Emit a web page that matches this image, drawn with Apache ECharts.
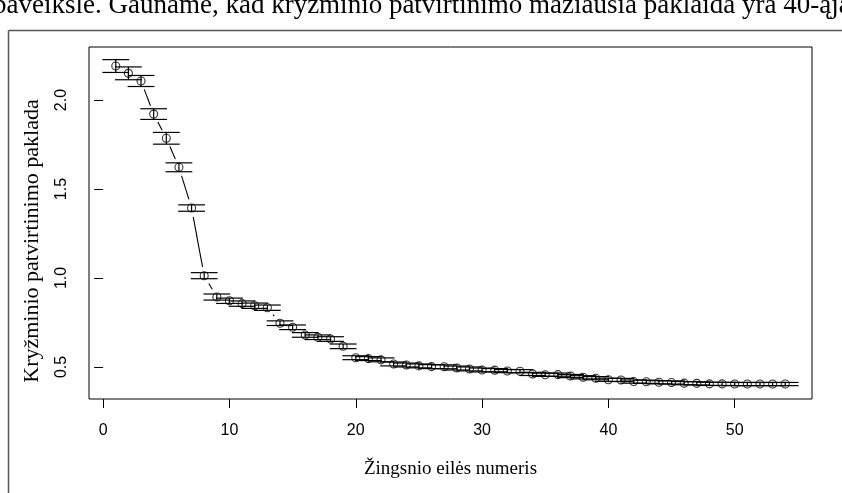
<!DOCTYPE html>
<html>
<head>
<meta charset="utf-8">
<script src="https://cdn.jsdelivr.net/npm/echarts@6/dist/echarts.min.js"></script>
<style>
    html, body {margin: 0; padding: 0; background: #fff;}
    #cvChart {width: 842px; height: 493px;}
</style>
</head>
<body>
<div id="cvChart"></div>
<script>
var steps = [1, 2, 3, 4, 5, 6, 7, 8, 9, 10, 11, 12, 13, 14, 15, 16, 17, 18, 19, 20,
    21, 22, 23, 24, 25, 26, 27, 28, 29, 30, 31, 32, 33, 34, 35, 36, 37, 38, 39, 40,
    41, 42, 43, 44, 45, 46, 47, 48, 49, 50, 51, 52, 53, 54];
var cvError = [2.191, 2.150, 2.107, 1.921, 1.785, 1.622, 1.393, 1.013, 0.893, 0.872,
    0.856, 0.844, 0.833, 0.746, 0.723, 0.680, 0.667, 0.657, 0.616, 0.552,
    0.547, 0.540, 0.517, 0.511, 0.506, 0.502, 0.501, 0.494, 0.489, 0.483,
    0.482, 0.477, 0.476, 0.461, 0.456, 0.457, 0.449, 0.442, 0.437, 0.428,
    0.427, 0.418, 0.417, 0.414, 0.413, 0.409, 0.408, 0.405, 0.405, 0.404,
    0.404, 0.404, 0.404, 0.404];
var cvSE = [0.036, 0.036, 0.031, 0.030, 0.033, 0.025, 0.018, 0.017, 0.017, 0.015,
    0.015, 0.015, 0.015, 0.013, 0.013, 0.013, 0.013, 0.013, 0.013, 0.011,
    0.011, 0.011, 0.011, 0.011, 0.011, 0.011, 0.011, 0.011, 0.011, 0.011,
    0.009, 0.009, 0.009, 0.009, 0.009, 0.009, 0.009, 0.009, 0.009, 0.009,
    0.009, 0.009, 0.009, 0.009, 0.009, 0.009, 0.009, 0.009, 0.009, 0.009,
    0.009, 0.009, 0.009, 0.009];
var xTicks = [0, 10, 20, 30, 40, 50];
var yTicks = [0.5, 1.0, 1.5, 2.0];
var xTitle = 'Žingsnio eilės numeris';
var yTitle = 'Kryžminio patvirtinimo paklada';
var topText = 'paveiksle. Gauname, kad kryžminio patvirtinimo mažiausia paklaida yra 40-ąja';

var capHalf = 1.06;   // half width of error bar caps, in step units
var lineGap = 9;      // px left open around each point (R type "b")

function renderErrorBar(params, api) {
    var x = api.value(0), lo = api.value(1), hi = api.value(2);
    var top = api.coord([x, hi]), bot = api.coord([x, lo]);
    var tl = api.coord([x - capHalf, hi]), tr = api.coord([x + capHalf, hi]);
    var bl = api.coord([x - capHalf, lo]), br = api.coord([x + capHalf, lo]);
    var st = {stroke: '#000', lineWidth: 1.2};
    return {
        type: 'group',
        children: [
            {type: 'line', shape: {x1: top[0], y1: top[1], x2: bot[0], y2: bot[1]}, style: st},
            {type: 'line', shape: {x1: tl[0], y1: tl[1], x2: tr[0], y2: tr[1]}, style: st},
            {type: 'line', shape: {x1: bl[0], y1: bl[1], x2: br[0], y2: br[1]}, style: st}
        ]
    };
}

function renderSegment(params, api) {
    var p1 = api.coord([api.value(0), api.value(1)]);
    var p2 = api.coord([api.value(2), api.value(3)]);
    var dx = p2[0] - p1[0], dy = p2[1] - p1[1];
    var len = Math.sqrt(dx * dx + dy * dy);
    if (len <= 2 * lineGap) {
        return null;
    }
    var ux = dx / len, uy = dy / len;
    return {
        type: 'line',
        shape: {
            x1: p1[0] + ux * lineGap, y1: p1[1] + uy * lineGap,
            x2: p2[0] - ux * lineGap, y2: p2[1] - uy * lineGap
        },
        style: {stroke: '#000', lineWidth: 1.1}
    };
}

var barData = steps.map(function (s, i) {
    return [s, cvError[i] - cvSE[i], cvError[i] + cvSE[i]];
});
var pointData = steps.map(function (s, i) {
    return [s, cvError[i]];
});
var segData = [];
for (var i = 0; i < steps.length - 1; i++) {
    segData.push([steps[i], cvError[i], steps[i + 1], cvError[i + 1]]);
}

var chart = echarts.init(document.getElementById('cvChart'), null, {renderer: 'canvas'});
var option = {
    animation: false,
    backgroundColor: '#fff',
    grid: {left: 89, top: 47, right: 30, bottom: 94, show: true, borderColor: '#000', borderWidth: 1},
    xAxis: {
        type: 'value',
        min: -1.12,
        max: 56.12,
        splitLine: {show: false},
        axisLine: {show: false},
        axisTick: {show: true, customValues: xTicks, length: 9, inside: false, lineStyle: {color: '#000'}},
        axisLabel: {
            customValues: xTicks, margin: 24, color: '#000',
            fontFamily: 'Liberation Sans', fontSize: 16
        },
        name: xTitle,
        nameLocation: 'middle',
        nameGap: 61,
        nameTextStyle: {fontFamily: 'Liberation Serif', fontSize: 19, color: '#000'}
    },
    yAxis: {
        type: 'value',
        min: 0.32,
        max: 2.298,
        splitLine: {show: false},
        axisLine: {show: false},
        axisTick: {show: true, customValues: yTicks, length: 9, inside: false, lineStyle: {color: '#000'}},
        axisLabel: {
            customValues: yTicks, margin: 19, rotate: 90, color: '#000',
            fontFamily: 'Liberation Sans', fontSize: 16,
            formatter: function (v) { return v.toFixed(1); }
        }
    },
    graphic: [
        {
            type: 'text', x: -7, y: -8,
            style: {text: topText, fontFamily: 'Liberation Serif', fontSize: 27, fill: '#000', verticalAlign: 'top'}
        },
        {type: 'line', shape: {x1: 8.5, y1: 30.5, x2: 842, y2: 30.5}, style: {stroke: '#555', lineWidth: 1.5}},
        {type: 'line', shape: {x1: 8.5, y1: 30.5, x2: 8.5, y2: 493}, style: {stroke: '#555', lineWidth: 1.5}},
        {
            type: 'text', x: 32, y: 241, rotation: Math.PI / 2,
            style: {
                text: yTitle, fontFamily: 'Liberation Serif', fontSize: 22, fill: '#000',
                align: 'center', verticalAlign: 'middle'
            }
        }
    ],
    series: [
        {
            type: 'custom',
            renderItem: renderSegment,
            encode: {x: [0, 2], y: [1, 3]},
            data: segData,
            silent: true
        },
        {
            type: 'custom',
            renderItem: renderErrorBar,
            encode: {x: 0, y: [1, 2]},
            data: barData,
            silent: true
        },
        {
            type: 'scatter',
            symbol: 'circle',
            symbolSize: 8,
            itemStyle: {color: 'rgba(0,0,0,0)', borderColor: '#000', borderWidth: 1.1},
            data: pointData,
            silent: true
        }
    ]
};
chart.setOption(option);
</script>
</body>
</html>
